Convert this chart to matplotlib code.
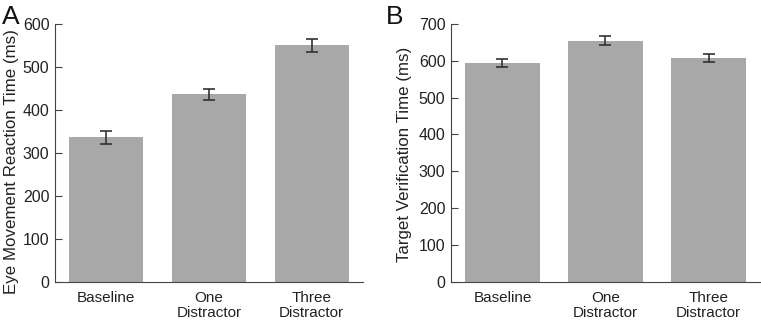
import matplotlib
matplotlib.use('Agg')
import matplotlib.pyplot as plt

plt.rcParams['font.family'] = ['Liberation Sans', 'DejaVu Sans']

# Daten
categorias = ['Baseline', 'One\nDistractor', 'Three\nDistractor']
reacao = [336, 436, 550]
reacao_err = [16, 13, 15]
verificacao = [594, 654, 607]
verificacao_err = [11, 12, 11]

cor_barra = '#a8a8a8'
cor_texto = '#222222'

fig = plt.figure(figsize=(7.61, 3.2), dpi=100)
axA = fig.add_axes([0.0723, 0.118, 0.4047, 0.808])
axB = fig.add_axes([0.5926, 0.118, 0.4061, 0.808])

def painel(ax, valores, erros, ymax, rotulo, letra, fx, lx, ly):
    x = range(len(categorias))
    ax.bar(x, valores, width=0.72, color=cor_barra, zorder=1)
    ax.errorbar(x, valores, yerr=erros, fmt='none', ecolor='#333333',
                elinewidth=1.2, capsize=4, capthick=1.2, zorder=2)
    ax.set_xlim(-0.5, 2.5)
    ax.set_ylim(0, ymax)
    ax.set_yticks(range(0, ymax + 1, 100))
    ax.set_xticks(list(x))
    ax.set_xticklabels(categorias, fontsize=11, color=cor_texto, linespacing=1.15)
    ax.tick_params(axis='x', length=0, pad=6)
    ax.tick_params(axis='y', direction='in', labelsize=11.5, labelcolor=cor_texto,
                   length=5, width=0.8, color='#444444', pad=4)
    for s in ['top', 'right']:
        ax.spines[s].set_visible(False)
    for s in ['left', 'bottom']:
        ax.spines[s].set_color('#444444')
        ax.spines[s].set_linewidth(0.8)
    ax.set_ylabel(rotulo, fontsize=12.2, color=cor_texto)
    ax.yaxis.set_label_coords(lx, ly)
    fig.text(fx, 0.985, letra, fontsize=19, color='#111111', va='top', ha='left')

painel(axA, reacao, reacao_err, 600, 'Eye Movement Reaction Time (ms)', 'A',
       0.002, -0.117, 0.465)
painel(axB, verificacao, verificacao_err, 700, 'Target Verification Time (ms)', 'B',
       0.507, -0.126, 0.496)

fig.savefig('out.png', dpi=100)
